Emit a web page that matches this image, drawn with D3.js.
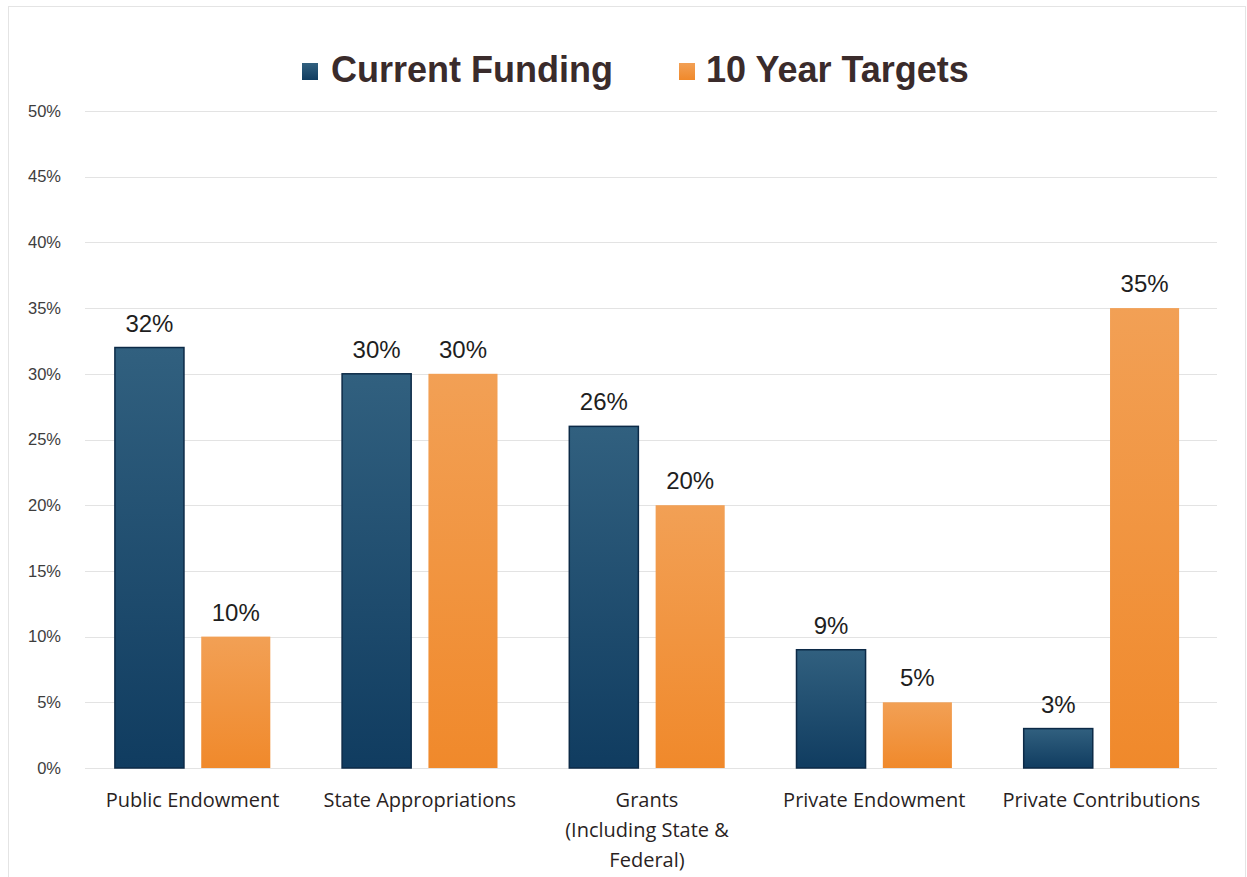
<!DOCTYPE html>
<html>
<head>
<meta charset="utf-8">
<script src="https://cdn.jsdelivr.net/npm/d3@7"></script>
<style>
  html, body { margin: 0; padding: 0; background: #fff; }
  svg { display: block; }
</style>
</head>
<body>
<svg id="chart" width="1247" height="877"></svg>
<script>
// Funding mix by source: current vs. 10-year targets (percent of total)
const categories = [
  ["Public Endowment"],
  ["State Appropriations"],
  ["Grants", "(Including State &", "Federal)"],
  ["Private Endowment"],
  ["Private Contributions"]
];
const seriesNames = ["Current Funding", "10 Year Targets"];
const currentFunding = [32, 30, 26, 9, 3];
const tenYearTargets = [10, 30, 20, 5, 35];
const yTicks = [0, 5, 10, 15, 20, 25, 30, 35, 40, 45, 50];

const svg = d3.select("#chart");
const W = 1247, H = 877;
const plot = { left: 79, right: 1215, top: 111, bottom: 768 };

// Gradients for the two series
const defs = svg.append("defs");
const gBlue = defs.append("linearGradient").attr("id", "gBlue").attr("x1", 0).attr("y1", 0).attr("x2", 0).attr("y2", 1);
gBlue.append("stop").attr("offset", "0%").attr("stop-color", "#31607f");
gBlue.append("stop").attr("offset", "100%").attr("stop-color", "#103c60");
const gOrange = defs.append("linearGradient").attr("id", "gOrange").attr("x1", 0).attr("y1", 0).attr("x2", 0).attr("y2", 1);
gOrange.append("stop").attr("offset", "0%").attr("stop-color", "#f2a055");
gOrange.append("stop").attr("offset", "100%").attr("stop-color", "#f0892b");

// Outer frame
svg.append("rect").attr("x", 8.5).attr("y", 6.5).attr("width", W - 10).attr("height", H - 4)
  .attr("fill", "#fff").attr("stroke", "#e4e4e4").attr("stroke-width", 1);

const x0 = d3.scaleBand().domain(d3.range(categories.length))
  .range([plot.left, plot.right]).paddingInner(0.316).paddingOuter(0.158);
const x1 = d3.scaleBand().domain(d3.range(2)).range([0, x0.bandwidth()]).paddingInner(0.2);
const y = d3.scaleLinear().domain([0, 50]).range([plot.bottom, plot.top]);

// Gridlines
svg.append("g").selectAll("line").data(yTicks).join("line")
  .attr("x1", 85).attr("x2", plot.right + 2)
  .attr("y1", d => Math.round(y(d)) + 0.5).attr("y2", d => Math.round(y(d)) + 0.5)
  .attr("stroke", "#e3e3e3").attr("stroke-width", 1);

// Y axis labels
const yAxis = d3.axisLeft(y).tickValues(yTicks).tickFormat(d => d + "%").tickSize(0).tickPadding(0);
const yg = svg.append("g").attr("transform", "translate(61,0)").call(yAxis);
yg.select(".domain").remove();
yg.selectAll("text").attr("font-family", "Liberation Sans, Arial, sans-serif")
  .attr("font-size", 16.5).attr("fill", "#3d3d3d");

// Bars
const data = categories.map((c, i) => [currentFunding[i], tenYearTargets[i]]);
const groups = svg.append("g").selectAll("g").data(data).join("g")
  .attr("transform", (d, i) => `translate(${x0(i)},0)`);

groups.selectAll("rect").data(d => d).join("rect")
  .attr("x", (d, j) => x1(j))
  .attr("y", d => y(d))
  .attr("width", x1.bandwidth())
  .attr("height", d => y(0) - y(d))
  .attr("fill", (d, j) => j === 0 ? "url(#gBlue)" : "url(#gOrange)")
  .attr("stroke", (d, j) => j === 0 ? "#0c2a47" : "none")
  .attr("stroke-width", 1.5);

// Value labels
groups.selectAll("text.val").data(d => d).join("text")
  .attr("class", "val")
  .attr("x", (d, j) => x1(j) + x1.bandwidth() / 2)
  .attr("y", d => y(d) - 16)
  .attr("text-anchor", "middle")
  .attr("font-family", "Liberation Sans, Arial, sans-serif")
  .attr("font-size", 24)
  .attr("fill", "#1e1e1e")
  .text(d => d + "%");

// Category labels
const catG = svg.append("g").selectAll("text").data(categories).join("text")
  .attr("x", (d, i) => x0(i) + x0.bandwidth() / 2)
  .attr("y", 807)
  .attr("text-anchor", "middle")
  .attr("font-family", "Open Sans, sans-serif")
  .attr("font-size", 20)
  .attr("fill", "#2a1f1f");
catG.selectAll("tspan").data(d => d).join("tspan")
  .attr("x", function () { return d3.select(this.parentNode).attr("x"); })
  .attr("dy", (d, k) => k === 0 ? 0 : 30)
  .text(d => d);

// Legend
const legend = svg.append("g");
const legendItems = [
  { name: seriesNames[0], fill: "url(#gBlue)", x: 302, tx: 331 },
  { name: seriesNames[1], fill: "url(#gOrange)", x: 679, tx: 706 }
];
legendItems.forEach(it => {
  legend.append("rect").attr("x", it.x).attr("y", 63).attr("width", 16).attr("height", 17)
    .attr("fill", it.fill);
  legend.append("text").attr("x", it.tx).attr("y", 82)
    .attr("font-family", "Liberation Sans, Arial, sans-serif")
    .attr("font-weight", "bold").attr("font-size", 36)
    .attr("fill", "#3a2b2b")
    .text(it.name);
});
</script>
</body>
</html>
